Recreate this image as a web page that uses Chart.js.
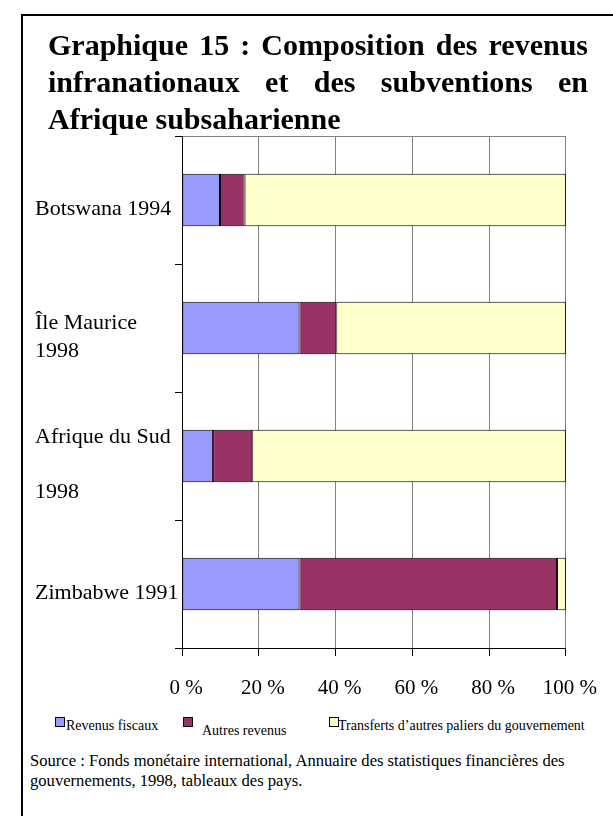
<!DOCTYPE html>
<html>
<head>
<meta charset="utf-8">
<script src="https://cdn.jsdelivr.net/npm/chart.js@4/dist/chart.umd.min.js"></script>
<style>
html, body { margin: 0; padding: 0; background: #fff; }
body { width: 613px; height: 816px; position: relative; overflow: hidden; font-family: "Liberation Serif", "Times New Roman", serif; color: #000; }
#frame { position: absolute; left: 21px; top: 14px; width: 660px; height: 900px; border: 2px solid #000; box-sizing: border-box; }
#title { position: absolute; left: 48px; top: 26px; width: 540px; font-weight: bold; font-size: 30px; line-height: 37px; text-align: justify; }
#chart { position: absolute; left: 0; top: 0; }
#legend { position: absolute; left: 0; top: 0; font-size: 14px; line-height: 16px; }
#legend .box { position: absolute; width: 8px; height: 8px; border: 1px solid #000; }
#legend .txt { position: absolute; white-space: nowrap; }
#source { position: absolute; left: 30px; top: 751px; font-size: 16.6px; line-height: 20px; white-space: nowrap; }
</style>
</head>
<body>
<div id="frame"></div>
<canvas id="chart" width="613" height="716"></canvas>
<div id="legend"></div>
<div id="title">Graphique 15 : Composition des revenus infranationaux et des subventions en Afrique subsaharienne</div>
<div id="source">Source : Fonds monétaire international, Annuaire des statistiques financières des<br>gouvernements, 1998, tableaux des pays.</div>
<script>
var categories = [
  ['Botswana 1994'],
  ['Île Maurice', '1998'],
  ['Afrique du Sud', '', '1998'],
  ['Zimbabwe 1991']
];
var seriesNames = ['Revenus fiscaux', 'Autres revenus', "Transferts d\u2019autres paliers du gouvernement"];
var revenusFiscaux = [9.9, 30.6, 8.1, 30.6];
var autresRevenus = [6.4, 9.6, 10.2, 67.1];
var transferts = [83.7, 59.8, 81.7, 2.3];
var percentTicks = [0, 20, 40, 60, 80, 100];

var serif = '"Liberation Serif", "Times New Roman", serif';
var colors = ['#9999FF', '#993366', '#FFFFCC'];
var values = [revenusFiscaux, autresRevenus, transferts];

var datasets = seriesNames.map(function(name, i){
  return {
    label: name,
    data: values[i],
    backgroundColor: colors[i],
    borderColor: '#000',
    borderWidth: 1,
    borderSkipped: false,
    barPercentage: 0.41,
    categoryPercentage: 1
  };
});

var chart = new Chart(document.getElementById('chart'), {
  type: 'bar',
  data: { labels: categories, datasets: datasets },
  options: {
    indexAxis: 'y',
    responsive: false,
    devicePixelRatio: 1,
    animation: false,
    layout: { padding: { left: 35, right: 46, top: 136, bottom: 0 } },
    scales: {
      x: {
        stacked: true,
        min: 0,
        max: 100,
        afterBuildTicks: function(scale){
          scale.ticks = percentTicks.map(function(v){ return { value: v }; });
        },
        afterFit: function(scale){ scale.height = 68; },
        grid: { color: '#808080', tickColor: '#000', tickLength: 8, lineWidth: 1 },
        border: { color: '#000', width: 1 },
        ticks: {
          callback: function(v){ return v + ' %'; },
          color: '#000',
          font: { family: serif, size: 21 },
          padding: 20,
          labelOffset: 4,
          maxRotation: 0
        }
      },
      y: {
        stacked: true,
        afterFit: function(scale){ scale.width = 147; },
        grid: {
          offset: true,
          drawOnChartArea: true,
          color: function(c){ return c.index === 0 ? '#808080' : 'rgba(0,0,0,0)'; },
          tickColor: '#000',
          tickLength: 7
        },
        border: { color: '#000', width: 1 },
        ticks: {
          crossAlign: 'far',
          color: '#000',
          labelOffset: 9,
          font: { family: serif, size: 22, lineHeight: 1.25 }
        }
      }
    },
    plugins: {
      tooltip: { enabled: false },
      legend: { display: false }
    }
  }
});

// legend below the axis, built from the chart's datasets
var legendBoxX = [55, 183, 329];
var legendTextX = [66, 202, 338];
var legendTextY = [718, 723, 718];
var legend = document.getElementById('legend');
chart.data.datasets.forEach(function(ds, i){
  var box = document.createElement('div');
  box.className = 'box';
  box.style.left = legendBoxX[i] + 'px';
  box.style.top = '717px';
  box.style.background = ds.backgroundColor;
  legend.appendChild(box);
  var txt = document.createElement('div');
  txt.className = 'txt';
  txt.style.left = legendTextX[i] + 'px';
  txt.style.top = legendTextY[i] + 'px';
  txt.textContent = ds.label;
  legend.appendChild(txt);
});
</script>
</body>
</html>
